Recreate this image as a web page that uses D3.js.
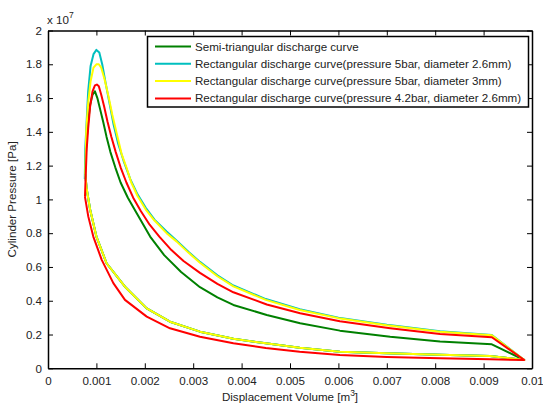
<!DOCTYPE html>
<html><head><meta charset="utf-8">
<script src="https://cdn.jsdelivr.net/npm/d3@7"></script>
<style>
body{margin:0;background:#fff;}
text{font-family:"Liberation Sans",Arial,sans-serif;fill:#222;}
</style></head>
<body><svg id="c" width="543" height="403"></svg>
<script>
// volumes in 1e-3 m^3, pressures in 1e7 Pa
const seriesNames = [
  "Semi-triangular discharge curve",
  "Rectangular discharge curve(pressure 5bar, diameter 2.6mm)",
  "Rectangular discharge curve(pressure 5bar, diameter 3mm)",
  "Rectangular discharge curve(pressure 4.2bar, diameter 2.6mm)"
];
const seriesColors = ["#008000", "#00BFBF", "#FFFF00", "#FF0000"];

const lowerV = [9.84, 9.13, 8.1, 7.0, 6.03, 5.2, 4.5, 3.83, 3.14, 2.52, 2.04, 1.59, 1.21, 1.0, 0.87, 0.80, 0.77];
const lowerP = [0.049, 0.073, 0.08, 0.089, 0.098, 0.122, 0.148, 0.175, 0.217, 0.276, 0.355, 0.483, 0.622, 0.78, 0.94, 1.06, 1.15];

const greenV = [0.77, 0.78, 0.80, 0.83, 0.87, 0.92, 0.97, 1.02, 1.08, 1.14, 1.21, 1.29, 1.39, 1.50, 1.65, 1.83, 2.11, 2.4, 2.75, 3.14, 3.5, 3.83, 4.52, 5.21, 6.03, 7.07, 8.1, 9.17, 9.84];
const greenP = [1.15, 1.25, 1.36, 1.46, 1.56, 1.62, 1.64, 1.60, 1.53, 1.46, 1.37, 1.28, 1.19, 1.10, 1.01, 0.92, 0.78, 0.67, 0.57, 0.48, 0.42, 0.375, 0.316, 0.267, 0.223, 0.187, 0.158, 0.142, 0.049];

const cyanV = [0.76, 0.77, 0.80, 0.83, 0.88, 0.94, 1.00, 1.06, 1.12, 1.19, 1.27, 1.35, 1.45, 1.56, 1.70, 1.85, 2.02, 2.2, 2.45, 2.66, 2.9, 3.14, 3.5, 3.83, 4.5, 5.2, 6.0, 7.0, 8.1, 9.17, 9.84];
const cyanP = [1.12, 1.30, 1.47, 1.64, 1.79, 1.86, 1.885, 1.87, 1.80, 1.69, 1.57, 1.45, 1.33, 1.23, 1.12, 1.03, 0.95, 0.88, 0.81, 0.755, 0.69, 0.63, 0.55, 0.49, 0.41, 0.35, 0.30, 0.258, 0.22, 0.197, 0.049];

const yellowV = [0.77, 0.79, 0.83, 0.88, 0.94, 1.0, 1.05, 1.10, 1.17, 1.25, 1.33, 1.42, 1.52, 1.62, 1.72, 1.85, 2.02, 2.2, 2.45, 2.66, 2.9, 3.14, 3.5, 3.83, 4.5, 5.2, 6.0, 7.0, 8.1, 9.17, 9.84];
const yellowP = [1.15, 1.40, 1.57, 1.70, 1.78, 1.80, 1.80, 1.78, 1.71, 1.61, 1.50, 1.39, 1.27, 1.19, 1.10, 1.02, 0.94, 0.875, 0.80, 0.75, 0.685, 0.625, 0.545, 0.485, 0.405, 0.345, 0.297, 0.255, 0.217, 0.195, 0.049];

const redV = [0.764, 0.78, 0.80, 0.83, 0.87, 0.92, 0.97, 1.01, 1.05, 1.10, 1.16, 1.23, 1.31, 1.40, 1.50, 1.62, 1.76, 1.92, 2.1, 2.3, 2.55, 2.8, 3.14, 3.5, 3.83, 4.52, 5.21, 6.03, 7.07, 8.1, 9.17, 9.84,
              9.13, 8.1, 7.0, 6.03, 5.2, 4.5, 3.83, 3.14, 2.52, 2.04, 1.59, 1.35, 1.11, 0.936, 0.833, 0.764];
const redP = [1.015, 1.15, 1.30, 1.42, 1.55, 1.64, 1.675, 1.68, 1.67, 1.62, 1.55, 1.46, 1.37, 1.28, 1.19, 1.10, 1.01, 0.93, 0.85, 0.78, 0.70, 0.635, 0.565, 0.50, 0.45, 0.378, 0.326, 0.278, 0.237, 0.203, 0.184, 0.049,
              0.053, 0.059, 0.067, 0.079, 0.098, 0.12, 0.148, 0.187, 0.237, 0.306, 0.405, 0.504, 0.642, 0.78, 0.898, 1.015];

const xTicks = [0, 0.001, 0.002, 0.003, 0.004, 0.005, 0.006, 0.007, 0.008, 0.009, 0.01];
const xTickLabels = ["0", "0.001", "0.002", "0.003", "0.004", "0.005", "0.006", "0.007", "0.008", "0.009", "0.01"];
const yTicks = [0, 0.2, 0.4, 0.6, 0.8, 1, 1.2, 1.4, 1.6, 1.8, 2];
const yTickLabels = ["0", "0.2", "0.4", "0.6", "0.8", "1", "1.2", "1.4", "1.6", "1.8", "2"];

const svg = d3.select("#c");
const L = 48, R = 532, T = 30.5, B = 368.3;
const FS = 11.6;
const x = d3.scaleLinear().domain([0, 0.01]).range([L, R]);
const y = d3.scaleLinear().domain([0, 2]).range([B, T]);

function closedLoop(uv, up, lv, lp) {
  const pts = uv.map((v, i) => [v * 1e-3, up[i]]);
  lv.forEach((v, i) => pts.push([v * 1e-3, lp[i]]));
  return pts;
}
const data = [
  closedLoop(lowerV, lowerP, greenV, greenP).reverse(),
  closedLoop(cyanV, cyanP, lowerV.slice(1), lowerP.slice(1)),
  closedLoop(yellowV, yellowP, lowerV.slice(1), lowerP.slice(1)),
  redV.map((v, i) => [v * 1e-3, redP[i]])
];

const line = d3.line().x(d => x(d[0])).y(d => y(d[1]));
const g = svg.append("g");
data.forEach((d, i) => {
  g.append("path").attr("d", line(d)).attr("fill", "none")
    .attr("stroke", seriesColors[i]).attr("stroke-width", 2).attr("stroke-linejoin", "round");
});

// axes (MATLAB box style)
const tl = 5;
const axB = d3.axisBottom(x).tickValues(xTicks).tickFormat((d, i) => xTickLabels[i]).tickSizeInner(-tl).tickSizeOuter(0).tickPadding(8);
const axT = d3.axisTop(x).tickValues(xTicks).tickFormat("").tickSizeInner(-tl).tickSizeOuter(0);
const axL = d3.axisLeft(y).tickValues(yTicks).tickFormat((d, i) => yTickLabels[i]).tickSizeInner(-tl).tickSizeOuter(0).tickPadding(6);
const axR = d3.axisRight(y).tickValues(yTicks).tickFormat("").tickSizeInner(-tl).tickSizeOuter(0);
function styleAx(sel) {
  sel.selectAll("path.domain").attr("stroke", "#000").attr("stroke-width", 1.5);
  sel.selectAll(".tick line").attr("stroke", "#000");
  sel.selectAll(".tick text").attr("font-size", FS).attr("fill", "#222")
    .attr("font-family", "Liberation Sans, Arial, sans-serif");
}
styleAx(svg.append("g").attr("transform", `translate(0,${B})`).call(axB));
styleAx(svg.append("g").attr("transform", `translate(0,${T})`).call(axT));
styleAx(svg.append("g").attr("transform", `translate(${L},0)`).call(axL));
styleAx(svg.append("g").attr("transform", `translate(${R},0)`).call(axR));

// exponent
const ex = svg.append("text").attr("x", 47).attr("y", 24).attr("font-size", FS);
ex.append("tspan").text("x 10");
ex.append("tspan").attr("font-size", 8.5).attr("dy", -6).text("7");

// axis labels
const xl = svg.append("text").attr("x", (L + R) / 2).attr("y", 401).attr("text-anchor", "middle").attr("font-size", FS);
xl.append("tspan").text("Displacement Volume [m");
xl.append("tspan").attr("font-size", 8.5).attr("dy", -5).text("3");
xl.append("tspan").attr("dy", 5).text("]");
svg.append("text").attr("transform", `translate(16,${(T + B) / 2}) rotate(-90)`)
  .attr("text-anchor", "middle").attr("font-size", FS).text("Cylinder Pressure [Pa]");

// legend
const lg = svg.append("g");
lg.append("rect").attr("x", 147.5).attr("y", 36.5).attr("width", 381).attr("height", 70.5)
  .attr("fill", "#fff").attr("stroke", "#000").attr("stroke-width", 1.5);
seriesNames.forEach((n, i) => {
  const yy = 46.5 + i * 17.3;
  lg.append("line").attr("x1", 155).attr("x2", 191).attr("y1", yy).attr("y2", yy)
    .attr("stroke", seriesColors[i]).attr("stroke-width", 2);
  lg.append("text").attr("x", 195).attr("y", yy + 4).attr("font-size", FS).text(n);
});
</script></body></html>
